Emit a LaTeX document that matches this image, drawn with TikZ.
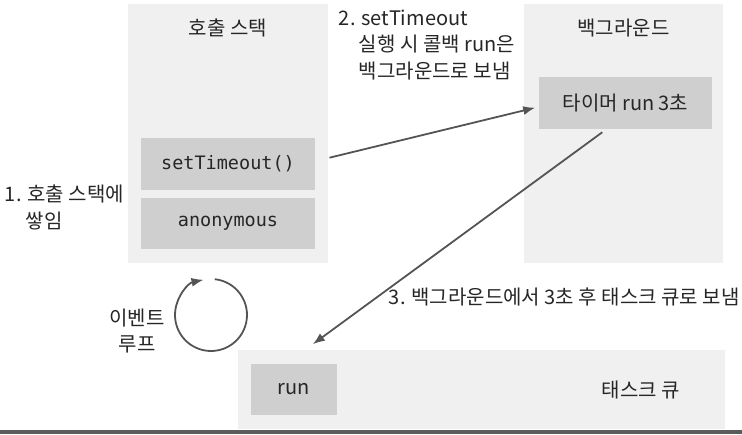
\documentclass[tikz,border=0pt]{standalone}
\usepackage{fontspec}
\setmainfont{Noto Sans CJK KR}
\setmonofont{DejaVu Sans Mono}
\usetikzlibrary{arrows.meta}
\usetikzlibrary{positioning}
\definecolor{panelgray}{gray}{0.94}
\definecolor{boxgray}{gray}{0.81}
\definecolor{inkgray}{gray}{0.15}
\definecolor{linegray}{gray}{0.33}
\definecolor{bargray}{gray}{0.36}

\begin{document}
\begin{tikzpicture}[x=1pt,y=1pt,>={Latex[length=12pt,width=9pt]},
	line width=1.8pt,
	panel/.style={fill=panelgray, inner sep=0},
	box/.style={fill=boxgray, inner sep=0, text=inkgray, font=\fontsize{20}{26}\selectfont},
	code box/.style={box, font=\ttfamily\fontsize{18.5}{22}\selectfont},
	note/.style={text=inkgray, inner sep=0, align=left, font=\fontsize{20}{26.5}\selectfont},
	flow/.style={->, draw=linegray, color=linegray}]

	\useasboundingbox (0,0) rectangle (742,434);
	\fill[bargray] (0,0) rectangle (742,4);

	\node[panel, minimum width=200, minimum height=259] at (228,300.5) (1) {};
	\node[panel, minimum width=199, minimum height=259] at (623.5,300.5) (2) {};
	\node[panel, minimum width=487, minimum height=79] at (481.5,44.5) (3) {};

	\node[note] at (228,406) (t1) {호출 스택};
	\node[note] at (623.5,406) (t2) {백그라운드};
	\node[note] at (641,44) (t3) {태스크 큐};

	\node[code box, minimum width=174, minimum height=52] at (228,270) (4) {setTimeout()};
	\node[code box, minimum width=174, minimum height=51] at (228,210.5) (5) {anonymous};
	\node[box, minimum width=173, minimum height=52] at (625.5,331) (6) {타이머 run 3초};
	\node[box, minimum width=86, minimum height=51] at (294,44.5) (7) {run};

	\node[note, anchor=north west] at (4,250) (l1) {1. 호출 스택에\\\hspace*{21pt}쌓임};
	\node[note, anchor=north west] at (338,425) (l2) {2. setTimeout\\\hspace*{20pt}실행 시 콜백 run은\\\hspace*{20pt}백그라운드로 보냄};
	\node[note, anchor=west] at (388,137) (l3) {3. 백그라운드에서 3초 후 태스크 큐로 보냄};
	\node[note, align=center] at (137,103) (l4) {이벤트\\루프};

	\coordinate (loop) at (211,119);
	\draw[flow] (loop) ++(84:36) arc[start angle=84, end angle=-258, radius=36];

	\path
	([yshift=3pt]4.east) edge [flow, shorten <=14pt, shorten >=3pt] ([yshift=-4pt]6.west)
	([xshift=-20pt]6.south) edge [flow, shorten <=4pt, shorten >=32pt] ([xshift=-7pt]7.north)
	;

\end{tikzpicture}
\end{document}
